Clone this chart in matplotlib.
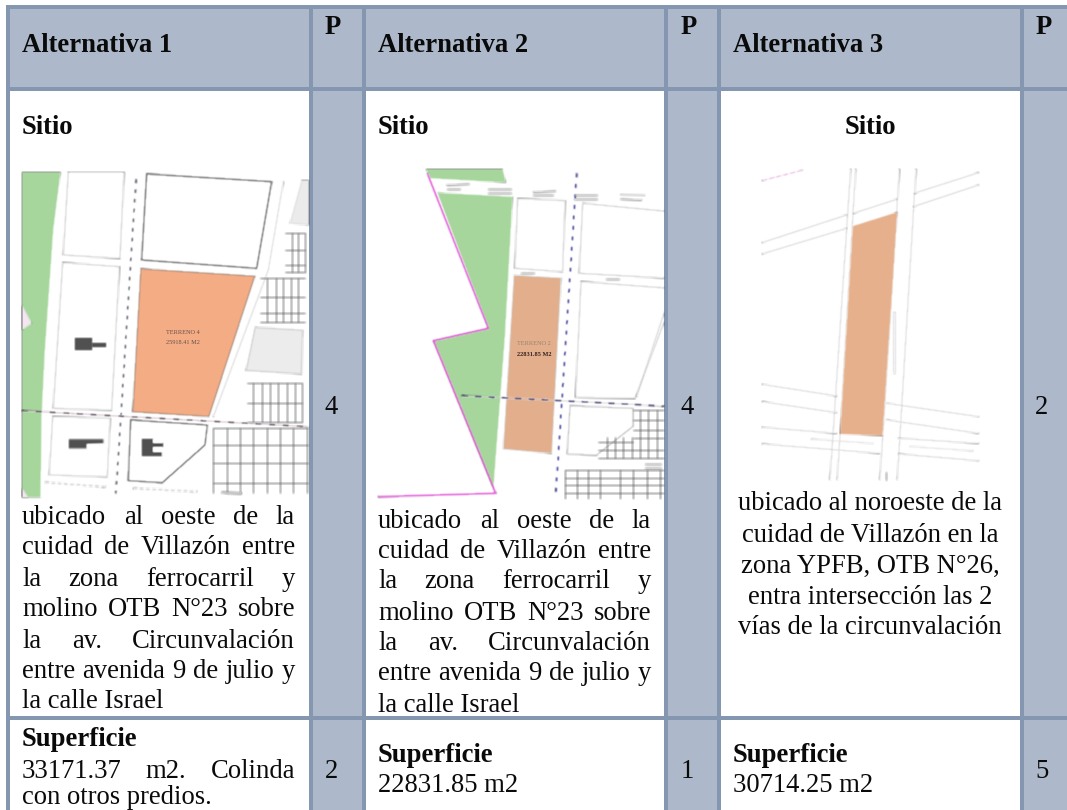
import numpy as np
import matplotlib
matplotlib.use("Agg")
import matplotlib.pyplot as plt
from matplotlib.patches import Polygon, Rectangle

# ---------- table content ----------
alternativas = ["Alternativa 1", "Alternativa 2", "Alternativa 3"]
p_header = "P"
sitio_label = "Sitio"
superficie_label = "Superficie"
sitio_p = [4, 4, 2]
superficie_p = [2, 1, 5]
desc_1 = ["ubicado al oeste de la", "cuidad de Villazón entre", "la zona ferrocarril y",
          "molino OTB N°23 sobre", "la av. Circunvalación", "entre avenida 9 de julio y",
          "la calle Israel"]
desc_2 = list(desc_1)
desc_3 = ["ubicado al noroeste de la", "cuidad de Villazón en la", "zona YPFB, OTB N°26,",
          "entra intersección las 2", "vías de la circunvalación"]
sup_1 = ["33171.37 m2. Colinda", "con otros predios."]
sup_2 = "22831.85 m2"
sup_3 = "30714.25 m2"

# ---------- styling ----------
W, H = 1067, 810
LINE = "#8496B0"
FILL = "#ADB9CA"
FS = 19.2
FONT = "Liberation Serif"
INK = "#0A0A0A"
DY = 1.5

fig = plt.figure(figsize=(W / 100, H / 100), dpi=100, facecolor="white")
ax = fig.add_axes([0, 0, 1, 1])
ax.set_xlim(0, W)
ax.set_ylim(H, 0)
ax.axis("off")


def rect(x0, y0, x1, y1, color, z=1):
    ax.add_patch(Rectangle((x0, y0), x1 - x0, y1 - y0, fc=color, ec="none", lw=0, zorder=z))


# fills
rect(6, 5, W, 91, FILL)
for a, b in [(313, 362), (668, 717), (1024, W)]:
    rect(a, 5, b, H, FILL)
# borders
for a, b in [(6, 10), (309, 313), (362, 366), (664, 668), (717, 721), (1020, 1024)]:
    rect(a, 5, b, H, LINE, z=3)
for a, b in [(5, 9), (87, 91), (716, 720)]:
    rect(6, a, W, b, LINE, z=3)


# ---------- blur so the maps look like the low-res pictures ----------
def blur(img, dpi):
    pad = 3
    out = np.pad(img, ((pad, pad), (pad, pad), (0, 0)), mode="constant")
    k = np.array([0.25, 0.5, 0.25])
    for axis in (0, 1):
        out = (np.roll(out, 1, axis) * k[0] + out * k[1] + np.roll(out, -1, axis) * k[2])
    return out, -pad, -pad


class Map:
    def __init__(self, ox, oy, x0, y0, x1, y1):
        self.ox, self.oy = ox, oy
        self.clip = Rectangle((x0, y0), x1 - x0, y1 - y0, fc="white", ec="none", zorder=4)
        ax.add_patch(self.clip)

    def t(self, pts):
        return [(self.ox + x / 3, self.oy + y / 3) for x, y in pts]

    def poly(self, pts, fc="none", ec="none", lw=0.0, z=5):
        p = Polygon(self.t(pts), closed=True, fc=fc, ec=ec, lw=lw, zorder=z, joinstyle="round")
        ax.add_patch(p)
        p.set_clip_path(self.clip)
        p.set_agg_filter(blur)

    def line(self, pts, color="#BBBBBB", lw=0.7, ls="-", z=5, alpha=1.0):
        xy = np.array(self.t(pts))
        l, = ax.plot(xy[:, 0], xy[:, 1], color=color, lw=lw, ls=ls, zorder=z, alpha=alpha,
                     solid_capstyle="butt")
        l.set_clip_path(self.clip)
        l.set_agg_filter(blur)

    def grid(self, x0, y0, x1, y1, xs, ys, color="#CFCFCF", lw=0.6):
        for x in xs:
            self.line([(x, y0), (x, y1)], color, lw)
        for y in ys:
            self.line([(x0, y), (x1, y)], color, lw)

    def label(self, x, y, s, color="#6A5048", size=4.5, weight="normal"):
        tx, ty = self.t([(x, y)])[0]
        ax.text(tx, ty, s, color=color, fontsize=size, ha="center", va="center",
                family=FONT, weight=weight, zorder=7, clip_on=True)


# ---------- map 1 ----------
m = Map(0, 150, 22, 172, 309, 498)
m.poly([(66, 66), (182, 66), (160, 240), (135, 600), (125, 800), (122, 1042), (66, 1042)], fc="#A6D69C")
m.poly([(66, 465), (95, 520), (66, 540)], fc="#F6E6F3")
m.poly([(66, 1015), (85, 1042), (66, 1042)], fc="#F6E6F3")
m.poly([(440, 72), (815, 95), (770, 355), (425, 330)], ec="#5E5E5E", lw=1.1)
m.poly([(205, 66), (372, 66), (360, 325), (190, 315)], ec="#C8C8C8", lw=0.9)
m.poly([(188, 338), (358, 350), (335, 780), (160, 775)], ec="#C8C8C8", lw=0.9)
m.poly([(158, 800), (330, 805), (322, 980), (148, 975)], ec="#C8C8C8", lw=0.9)
m.poly([(392, 810), (622, 825), (615, 885), (487, 998), (385, 992)], ec="#555555", lw=1.0)
m.poly([(765, 532), (908, 540), (905, 672), (738, 662)], fc="#ECECEC", ec="#C4C4C4", lw=0.7)
m.poly([(905, 92), (927, 92), (927, 225), (870, 220)], fc="#EBEBEB", ec="#D4D4D4", lw=0.5)
m.poly([(422, 356), (765, 378), (627, 800), (398, 786)], fc="#F4AC85", ec="#7A6A60", lw=0.5)
m.line([(850, 95), (805, 360), (640, 800)], "#CFCFCF", 0.8)
m.grid(780, 385, 915, 515, [800, 828, 850, 872, 895], [385, 440, 490, 515])
m.grid(855, 250, 915, 365, [875, 895, 915], [250, 300, 345, 365])
m.grid(740, 700, 905, 815, [760, 785, 810, 835, 860, 885, 905], [700, 760, 815])
m.grid(640, 835, 925, 1030, [640, 680, 720, 760, 800, 840, 880, 920], [835, 885, 940, 1000])
for pts in ([(225, 565), (275, 565), (275, 600), (225, 600)],
            [(275, 580), (318, 580), (318, 592), (275, 592)],
            [(207, 868), (310, 868), (310, 880), (260, 882), (260, 895), (207, 895)],
            [(427, 868), (460, 868), (460, 878), (490, 878), (490, 890), (460, 890),
             (460, 905), (485, 905), (485, 918), (427, 918)]):
    m.poly(pts, fc="#505050")
m.line([(408, 88), (348, 1030)], "#555566", 1.3, (0, (2.2, 3.2)))
m.line([(66, 782), (925, 830)], "#C9A8B4", 0.8)
m.line([(66, 782), (925, 830)], "#4A4A55", 1.1, (0, (4, 5)))
m.line([(135, 998), (320, 1010)], "#D8D8D8", 1.5, (0, (2, 1)))
m.line([(400, 1016), (590, 1024)], "#D8D8D8", 1.5, (0, (2, 1)))
m.line([(665, 1028), (725, 1030)], "#BBBBBB", 1.8)
m.label(548, 548, "TERRENO 4")
m.label(548, 578, "25918.41 M2")

# ---------- map 2 ----------
m = Map(350, 150, 378, 169, 664, 499)
m.poly([(228, 57), (458, 57), (468, 98), (240, 85)], fc="#A6D69C")
m.poly([(262, 128), (488, 140), (465, 560), (430, 1020), (250, 572), (415, 535)], fc="#A6D69C")
m.line([(232, 70), (415, 535), (250, 572), (437, 1030), (84, 1040)], "#E24FD8", 1.3)
m.poly([(503, 146), (645, 152), (638, 365), (495, 355)], ec="#C8C8C8", lw=0.9)
m.poly([(698, 160), (960, 185), (960, 385), (688, 370)], ec="#C8C8C8", lw=0.9)
m.poly([(693, 395), (960, 415), (960, 470), (855, 745), (677, 742)], ec="#C8C8C8", lw=0.9)
m.poly([(660, 768), (848, 775), (848, 830), (740, 915), (652, 912)], ec="#AAAAAA", lw=0.8)
m.line([(945, 480), (860, 740)], "#C8C8C8", 0.8)
m.poly([(492, 376), (633, 384), (605, 910), (460, 897)], fc="#E3AE8B", ec="#C8C8C8", lw=0.5)
m.line([(680, 70), (617, 1040)], "#3A3A9A", 1.4, (0, (2.2, 3.2)))
m.line([(335, 737), (942, 768)], "#C9C0C0", 0.7)
m.line([(335, 737), (942, 768)], "#3A3A70", 1.2, (0, (4, 4)))
for seg in ([(290, 105), (358, 103)], [(290, 118), (330, 118)], [(415, 118), (482, 118)],
            [(415, 128), (482, 128)], [(550, 126), (618, 124)], [(550, 136), (610, 136)],
            [(672, 134), (742, 134)], [(672, 146), (742, 146)], [(812, 134), (885, 136)],
            [(812, 148), (875, 150)], [(768, 388), (808, 388)], [(512, 370), (552, 370)],
            [(885, 942), (932, 942)], [(885, 955), (932, 955)]):
    m.line(seg, "#B5B5B5", 1.0)
m.grid(850, 780, 942, 925, [870, 895, 920, 942], [780, 810, 840, 865, 900, 925])
m.grid(745, 860, 850, 925, [770, 795, 820, 845], [875, 900, 925])
m.grid(645, 960, 942, 1048, [645, 680, 715, 750, 810, 850, 890, 930], [960, 985, 1005, 1030, 1048])
m.label(553, 580, "TERRENO 2", color="#9A8272", size=4.5)
m.label(553, 612, "22831.85 M2", color="#332222", size=4.5, weight="bold")

# ---------- map 3 ----------
m = Map(690, 150, 762, 169, 979, 485)
for seg in ([(482, 57), (420, 990)], [(497, 57), (442, 990)], [(628, 57), (570, 990)],
            [(678, 57), (622, 990)],
            [(216, 278), (470, 195)], [(490, 190), (620, 148)], [(672, 130), (866, 68)],
            [(216, 312), (470, 235)], [(670, 170), (866, 105)],
            [(216, 703), (440, 738)], [(590, 760), (866, 800)],
            [(216, 755), (440, 788)], [(590, 810), (866, 850)],
            [(216, 832), (440, 850)], [(216, 882), (570, 910)],
            [(625, 865), (866, 880)], [(625, 912), (866, 932)]):
    m.line(seg, "#CDCDCD", 0.8)
m.poly([(488, 228), (622, 186), (578, 858), (450, 852)], fc="#E6B08C")
m.line([(216, 92), (340, 60)], "#E39ADD", 0.8, (0, (5, 1.5)))
m.line([(612, 485), (612, 668)], "#D8D8E0", 1.0, (0, (1, 0.6)))
m.line([(365, 868), (552, 880)], "#D0D0D0", 1.0, (0, (1, 0.6)))
m.line([(660, 890), (848, 902)], "#D0D0D0", 1.0, (0, (1, 0.6)))
m.line([(588, 966), (588, 990)], "#999999", 0.8)


# ---------- text helpers ----------
def txt(x, y, s, weight="normal", ha="left"):
    return ax.text(x, y + DY, s, fontsize=FS, family=FONT, weight=weight, ha=ha, va="baseline",
                   color=INK, zorder=8)


renderer = fig.canvas.get_renderer()


def width(s, weight="normal"):
    t = txt(0, 0, s, weight)
    w = t.get_window_extent(renderer).width
    t.remove()
    return w


def justified(x0, x1, y, line):
    words = line.split(" ")
    widths = [width(w) for w in words]
    gap = (x1 - x0 - sum(widths)) / (len(words) - 1)
    x = x0
    for w, wd in zip(words, widths):
        txt(x, y, w)
        x += wd + gap


# headers
for x, s in zip([22, 378, 733], alternativas):
    txt(x, 50, s, "bold")
for x in [333, 689, 1044]:
    txt(x, 33, p_header, "bold", ha="center")

# Sitio
txt(22, 133, sitio_label, "bold")
txt(378, 132, sitio_label, "bold")
txt(870, 132, sitio_label, "bold", ha="center")

# scores
for x, v in zip([331, 687, 1042], sitio_p):
    txt(x, 413, str(v), ha="center")
for x, v in zip([331, 687, 1042], superficie_p):
    txt(x, 776, str(v), ha="center")

# descriptions
base_1 = [523, 553, 584, 615, 646, 676, 707]
base_2 = [526, 557, 587, 618, 649, 679, 710]
base_3 = [509, 540, 571, 602, 633]
for i, line in enumerate(desc_1):
    if i < 6:
        justified(22, 295, base_1[i], line)
    else:
        txt(22, base_1[i], line)
for i, line in enumerate(desc_2):
    if i < 6:
        justified(378, 651, base_2[i], line)
    else:
        txt(378, base_2[i], line)
for y, line in zip(base_3, desc_3):
    txt(870, y, line, ha="center")

# Superficie
txt(22, 745, superficie_label, "bold")
justified(22, 295, 776, sup_1[0])
txt(22, 802.5, sup_1[1])
txt(378, 760, superficie_label, "bold")
txt(378, 791, sup_2)
txt(733, 760, superficie_label, "bold")
txt(733, 791, sup_3)

fig.savefig("out.png", dpi=100, facecolor="white")
